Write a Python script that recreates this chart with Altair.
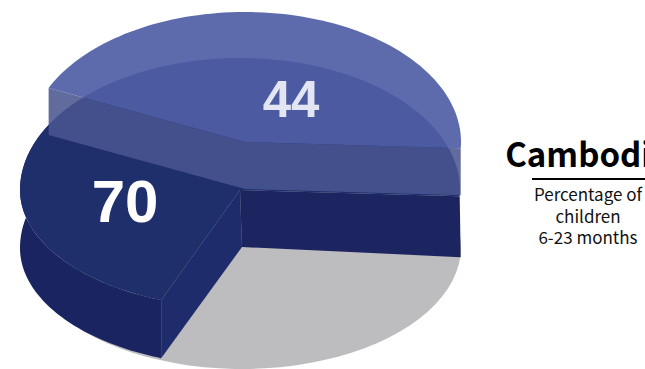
import math
import altair as alt
import pandas as pd

# Survey shares, in percent, drawn as stacked pie slabs
SERIES = ["Outer slab", "Inner slab"]
VALUES = [70, 44]
TITLE = "Cambodia"
SUBTITLE = ["Percentage of", "children", "6-23 months"]

WIDTH, HEIGHT = 645, 369
START_DEG = -3.0


def arc(cx, cy, rx, ry_back, ry_front, t0, t1, steps=90):
    pts = []
    for i in range(steps + 1):
        t = math.radians(t0 + (t1 - t0) * i / steps)
        s = math.sin(t)
        pts.append((cx + rx * math.cos(t), cy - (ry_back if s > 0 else ry_front) * s))
    return pts


def sweep(value):
    return START_DEG + value * 3.6


faces = []


def face(pts, color, opacity=1.0):
    faces.append((pts, color, opacity))


dark, light = VALUES

# Ground plane: the full disc, showing only in the open wedge
face(arc(242, 247, 219, 120, 122, 0, 360), "#bdbdc0")

# Outer slab: wall, cut faces, then top
D = dict(cx=240, cy=190, rx=220, ry_back=132, ry_front=118)
DH = 58
end = sweep(dark)
top_arc = arc(t0=150, t1=end, **D)
face(top_arc + [(x, y + DH) for x, y in reversed(top_arc)], "#1a2460")
apex = (D["cx"], D["cy"])
base = (242, 247)
p_end = arc(t0=end, t1=end, steps=1, **D)[0]
p_start = arc(t0=START_DEG, t1=START_DEG, steps=1, **D)[0]
face([apex, p_end, (p_end[0], p_end[1] + DH), base], "#1f2c6b")
face([apex, p_start, (p_start[0] + 1, p_start[1] + DH + 3), base], "#1c2560")
face([apex] + arc(t0=START_DEG, t1=end, **D), "#1f2f6c")

# Inner slab, translucent so the outer slab's rim shows through it
L = dict(cx=245, cy=142, rx=216, ry_back=130, ry_front=120)
LH = 47
end = sweep(light)
p_end = arc(t0=end, t1=end, steps=1, **L)[0]
p_start = arc(t0=START_DEG, t1=START_DEG, steps=1, **L)[0]
apex = (L["cx"], L["cy"])
face([apex, p_end, (p_end[0], p_end[1] + LH), (apex[0], apex[1] + LH)], "#4a5590", 0.87)
face([apex, p_start, (p_start[0], p_start[1] + LH), (apex[0], apex[1] + LH)], "#4a5590", 0.87)
face([apex] + arc(t0=START_DEG, t1=end, **L), "#4f5ea6", 0.92)

x_enc = alt.X("x:Q", scale=alt.Scale(domain=[0, WIDTH]), axis=None)
y_enc = alt.Y("y:Q", scale=alt.Scale(domain=[HEIGHT, 0]), axis=None)

layers = []
for pts, color, opacity in faces:
    df = pd.DataFrame(
        {"x": [p[0] for p in pts], "y": [p[1] for p in pts], "i": range(len(pts))}
    )
    layers.append(
        alt.Chart(df)
        .mark_line(fill=color, fillOpacity=opacity, strokeWidth=0, clip=True)
        .encode(x=x_enc, y=y_enc, order="i:Q")
    )

labels = pd.DataFrame(
    {"series": SERIES, "value": VALUES, "x": [125, 291], "y": [204, 102],
     "c": ["#ffffff", "#e3e6f2"], "s": [60, 51]}
)
for _, row in labels.iterrows():
    layers.append(
        alt.Chart(pd.DataFrame({"x": [row.x], "y": [row.y], "t": [str(row.value)]}))
        .mark_text(font="Liberation Sans", fontWeight="bold", fontSize=int(row.s),
                   color=row.c, align="center", baseline="middle")
        .encode(x=x_enc, y=y_enc, text="t:N")
    )

layers.append(
    alt.Chart(pd.DataFrame({"x": [588], "y": [157], "t": [TITLE]}))
    .mark_text(font="Noto Sans CJK SC", fontWeight="bold", fontSize=33,
               color="#000000", align="center", baseline="middle")
    .encode(x=x_enc, y=y_enc, text="t:N")
)
layers.append(
    alt.Chart(pd.DataFrame({"x": [532], "x2": [645], "y": [179]}))
    .mark_rule(color="#000000", strokeWidth=2)
    .encode(x=x_enc, x2="x2:Q", y=y_enc)
)
layers.append(
    alt.Chart(pd.DataFrame({"x": [588] * 3, "y": [196, 218, 239], "t": SUBTITLE}))
    .mark_text(font="Noto Sans CJK SC", fontSize=17, color="#111111",
               align="center", baseline="middle")
    .encode(x=x_enc, y=y_enc, text="t:N")
)

chart = (
    alt.layer(*layers)
    .properties(width=WIDTH, height=HEIGHT, padding=0,
                autosize=alt.AutoSizeParams(type="none"), background="#ffffff")
    .configure_view(stroke=None)
)
chart.save("out.html", embed_options={"renderer": "svg", "actions": False})
